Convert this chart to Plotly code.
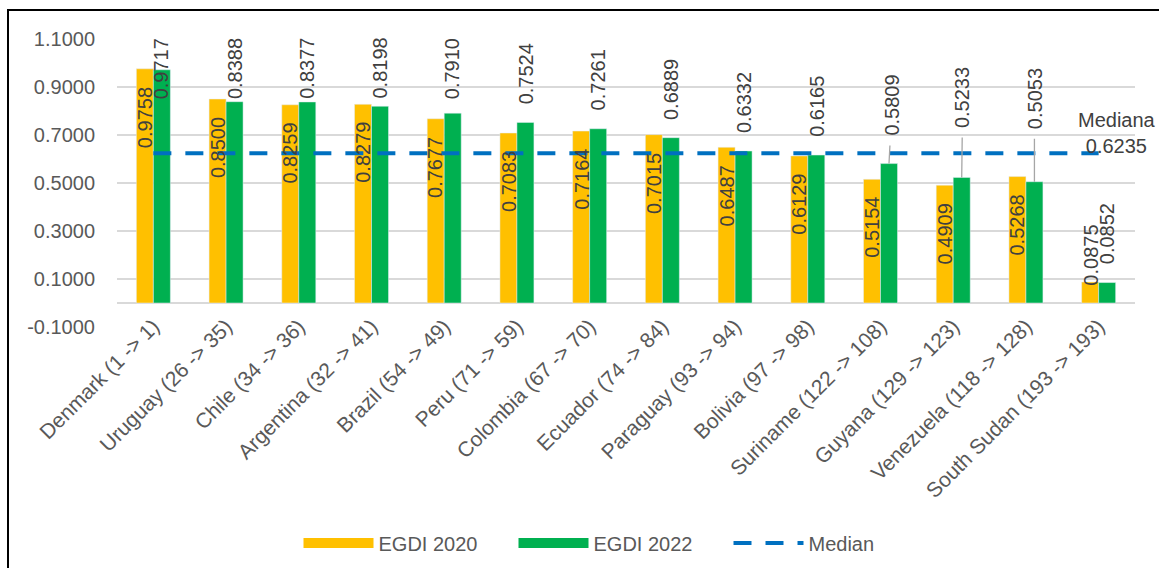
import plotly.graph_objects as go

# ---------------- data ----------------
countries = [
    "Denmark (1 -> 1)", "Uruguay (26 -> 35)", "Chile (34 -> 36)", "Argentina (32 -> 41)",
    "Brazil (54 -> 49)", "Peru (71 -> 59)", "Colombia (67 -> 70)", "Ecuador (74 -> 84)",
    "Paraguay (93 -> 94)", "Bolivia (97 -> 98)", "Suriname (122 -> 108)", "Guyana (129 -> 123)",
    "Venezuela (118 -> 128)", "South Sudan (193 -> 193)",
]
egdi_2020 = [0.9758, 0.8500, 0.8259, 0.8279, 0.7677, 0.7083, 0.7164,
             0.7015, 0.6487, 0.6129, 0.5154, 0.4909, 0.5268, 0.0875]
egdi_2022 = [0.9717, 0.8388, 0.8377, 0.8198, 0.7910, 0.7524, 0.7261,
             0.6889, 0.6332, 0.6165, 0.5809, 0.5233, 0.5053, 0.0852]
median_values = [0.6235, 0.6235, 0.6235, 0.6235, 0.6235, 0.6235, 0.6235,
                 0.6235, 0.6235, 0.6235, 0.6235, 0.6235, 0.6235, 0.6235]
median_label = "Mediana<br>0.6235"
y_tick_values = [-0.1, 0.1, 0.3, 0.5, 0.7, 0.9, 1.1]
y_tick_labels = ["-0.1000", "0.1000", "0.3000", "0.5000", "0.7000", "0.9000", "1.1000"]

# ---------------- styling / layout constants ----------------
W, H = 1159, 568
ML, MR, MT, MB = 117, 24, 39, 241
Y_MIN, Y_MAX = -0.1, 1.1
PLOT_W = W - ML - MR
PLOT_H = H - MT - MB
PPU = PLOT_H / (Y_MAX - Y_MIN)          # pixels per unit on y
BAR_PX = 17
CAT_W = PLOT_W / len(countries)
BARGAP = 1 - 2 * BAR_PX / CAT_W

YELLOW = "#FFC000"
GREEN = "#00B050"
BLUE = "#0070C0"
AXIS_TXT = "#595959"
LABEL_TXT = "#404040"
GRID = "#D9D9D9"
FONT = "Liberation Sans, Arial, sans-serif"
FS = 20
LABEL_LEN = 63      # approx pixel length of a rotated data label
LABEL_PAD = 17

# leader-line labels (manually moved in the original): offsets in px
leader_offsets = {
    "Suriname (122 -> 108)": (3, -58),
    "Guyana (129 -> 123)": (1, -80),
    "Venezuela (118 -> 128)": (0, -83),
}

fig = go.Figure()
fig.add_trace(go.Bar(x=countries, y=egdi_2020, name="EGDI 2020", marker_color=YELLOW,
                     showlegend=False, hoverinfo="skip"))
fig.add_trace(go.Bar(x=countries, y=egdi_2022, name="EGDI 2022", marker_color=GREEN,
                     showlegend=False, hoverinfo="skip"))
# legend stand-ins (wide swatches)
fig.add_trace(go.Scatter(x=[None], y=[None], mode="lines", name="EGDI 2020",
                         line=dict(color=YELLOW, width=11)))
fig.add_trace(go.Scatter(x=[None], y=[None], mode="lines", name="EGDI 2022",
                         line=dict(color=GREEN, width=11)))
fig.add_trace(go.Scatter(x=countries, y=median_values, mode="lines", name="Median",
                         line=dict(color=BLUE, width=4, dash="18px,14px"), hoverinfo="skip"))

annotations = []
label_font = dict(family=FONT, size=FS, color=LABEL_TXT)
top_limit_px = Y_MAX * PPU + 2 - LABEL_LEN
for c, v in zip(countries, egdi_2020):
    if v * PPU >= LABEL_PAD + LABEL_LEN + 5:
        shift = -(LABEL_PAD + LABEL_LEN / 2)
    else:
        shift = LABEL_LEN / 2 - 5
    annotations.append(dict(x=c, y=v, xref="x", yref="y", text=f"{v:.4f}", textangle=-90,
                            showarrow=False, xshift=-BAR_PX / 2, yanchor="middle",
                            xanchor="center", yshift=shift, font=label_font))

for c, v in zip(countries, egdi_2022):
    if c in leader_offsets:
        ax, ay = leader_offsets[c]
        annotations.append(dict(x=c, y=v, xref="x", yref="y", text=f"{v:.4f}", textangle=-90,
                                showarrow=True, arrowhead=0, arrowwidth=1.3, arrowcolor="#A6A6A6",
                                ax=ax, ay=ay, startstandoff=8, xshift=BAR_PX / 2,
                                font=label_font))
    else:
        bottom = min(LABEL_PAD, top_limit_px - v * PPU)
        annotations.append(dict(x=c, y=v, xref="x", yref="y", text=f"{v:.4f}", textangle=-90,
                                showarrow=False, xshift=BAR_PX / 2, yanchor="middle",
                                xanchor="center", yshift=bottom + LABEL_LEN / 2,
                                font=label_font))

annotations.append(dict(x=countries[-1], y=median_values[-1], xref="x", yref="y",
                        text=median_label, showarrow=False, xshift=18, yshift=20,
                        xanchor="center", yanchor="middle", align="center",
                        font=label_font))

# outer chart border
border = dict(type="rect", xref="paper", yref="paper",
              x0=(8 - ML) / PLOT_W, x1=(W + 20 - ML) / PLOT_W,
              y0=(MT + PLOT_H - (H + 20)) / PLOT_H, y1=(MT + PLOT_H - 10) / PLOT_H,
              line=dict(color="black", width=2), fillcolor="rgba(0,0,0,0)", layer="above")

fig.update_layout(
    width=W, height=H,
    margin=dict(l=ML, r=MR, t=MT, b=MB, autoexpand=False),
    paper_bgcolor="white", plot_bgcolor="white",
    barmode="group", bargap=BARGAP, bargroupgap=0,
    font=dict(family=FONT, size=FS, color=AXIS_TXT),
    annotations=annotations,
    shapes=[border],
    showlegend=True,
    legend=dict(orientation="h", x=(621 - ML) / PLOT_W, xanchor="center",
                y=(MT + PLOT_H - 543) / PLOT_H, yanchor="middle",
                itemwidth=70, entrywidth=130,
                font=dict(family=FONT, size=FS, color=AXIS_TXT),
                bgcolor="rgba(0,0,0,0)"),
    xaxis=dict(type="category", range=[-0.5, len(countries) - 0.5], tickangle=-45,
               showgrid=False, showline=False, ticks="", automargin=False,
               ticklabelstandoff=-18,
               tickfont=dict(family=FONT, size=21, color=AXIS_TXT)),
    yaxis=dict(range=[Y_MIN, Y_MAX], tickvals=y_tick_values, ticktext=y_tick_labels,
               showgrid=True, gridcolor=GRID, gridwidth=1.5,
               zeroline=True, zerolinecolor=GRID, zerolinewidth=2,
               showline=False, ticks="", ticklabelstandoff=21, automargin=False,
               tickfont=dict(family=FONT, size=FS, color=AXIS_TXT)),
)

fig.write_html("out.html")
